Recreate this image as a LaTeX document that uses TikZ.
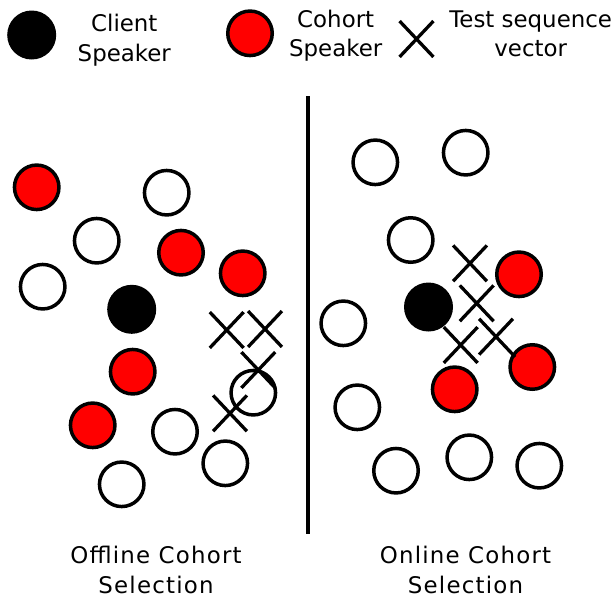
\documentclass[tikz,border=0pt]{standalone}
\usepackage{fontspec}
\setmainfont{DejaVu Sans}
\newfontfamily\captionspaced[LetterSpace=5.2]{DejaVu Sans}
\usetikzlibrary{shapes.misc}
\begin{document}
\begin{tikzpicture}[x=1pt,y=-1pt,
  spk/.style={circle,draw=black,line width=3.5pt,minimum size=44.5pt,inner sep=0pt},
  cohort/.style={spk,fill=red},
  other/.style={spk,fill=white},
  client/.style={circle,fill=black,minimum size=49pt,inner sep=0pt},
  testvec/.style={cross out,draw=black,line width=3.3pt,minimum width=30.5pt,minimum height=32.5pt,inner sep=0pt},
  lbl/.style={font=\fontsize{22.9}{30}\selectfont,inner sep=0pt,anchor=base},
  caplbl/.style={lbl,font=\captionspaced\fontsize{22.9}{30}\selectfont}]
\useasboundingbox (0,0) rectangle (615,600);

% legend
\node[client] (legclient) at (31.7,35) {};
\node[lbl] (legclient1) at (124.3,31.7) {Client};
\node[lbl] (legclient2) at (124.3,61.7) {Speaker};
\node[cohort] (legcohort) at (250,33.3) {};
\node[lbl] (legcohort1) at (335.7,27.5) {Cohort};
\node[lbl] (legcohort2) at (335.7,56.8) {Speaker};
\node[testvec] (legtest) at (416.5,39) {};
\node[lbl] (legtest1) at (530.7,27.8) {Test sequence};
\node[lbl] (legtest2) at (530.7,56.8) {vector};

% divider
\coordinate (divtop) at (308.3,96);
\coordinate (divbot) at (308.3,534);
\draw[line width=3.8pt] (divtop) -- (divbot);

% offline cohort selection
\node[cohort] (lr1) at (36.7,187.3) {};
\node[other]  (lw1) at (166.7,192.7) {};
\node[other]  (lw2) at (96.7,240.7) {};
\node[cohort] (lr2) at (181,252.7) {};
\node[cohort] (lr3) at (242.7,273.3) {};
\node[other]  (lw3) at (42.7,286.7) {};
\node[client] (lc)  at (131.7,309.3) {};
\node[cohort] (lr4) at (132.7,371.7) {};
\node[other]  (lw4) at (253.3,392.7) {};
\node[cohort] (lr5) at (92.7,425.3) {};
\node[other]  (lw5) at (175,431.7) {};
\node[other]  (lw6) at (225.3,463.3) {};
\node[other]  (lw7) at (121.7,484.3) {};
\node[testvec] (lx1) at (226.7,330) {};
\node[testvec] (lx2) at (265,329) {};
\node[testvec] (lx3) at (258.3,370) {};
\node[testvec] (lx4) at (230,413.3) {};

% online cohort selection
\node[other]  (rw1) at (375.3,162.3) {};
\node[other]  (rw2) at (465.7,152.7) {};
\node[other]  (rw3) at (410.7,240) {};
\node[cohort] (rr1) at (519,274.3) {};
\node[client] (rc)  at (428.5,307) {};
\node[other]  (rw4) at (343.3,323.3) {};
\node[cohort] (rr2) at (532.3,367) {};
\node[cohort] (rr3) at (454.7,389.3) {};
\node[other]  (rw5) at (357.3,407.3) {};
\node[other]  (rw6) at (396,470.7) {};
\node[other]  (rw7) at (469.3,457.3) {};
\node[other]  (rw8) at (539.3,465.7) {};
\node[testvec] (rx1) at (470,263.3) {};
\node[testvec] (rx2) at (476.7,303.3) {};
\node[testvec] (rx3) at (460.7,345) {};
\node[testvec] (rx4) at (496,336.7) {};
\coordinate (rx4tail) at (515,357);
\draw[line width=3.3pt] (rx4.south east) -- (rx4tail);

% captions
\node[caplbl] (off1) at (156,563.3) {Offline Cohort};
\node[caplbl] (off2) at (156,593.3) {Selection};
\node[caplbl] (on1) at (465.5,563.3) {Online Cohort};
\node[caplbl] (on2) at (465.5,593.3) {Selection};
\end{tikzpicture}
\end{document}
